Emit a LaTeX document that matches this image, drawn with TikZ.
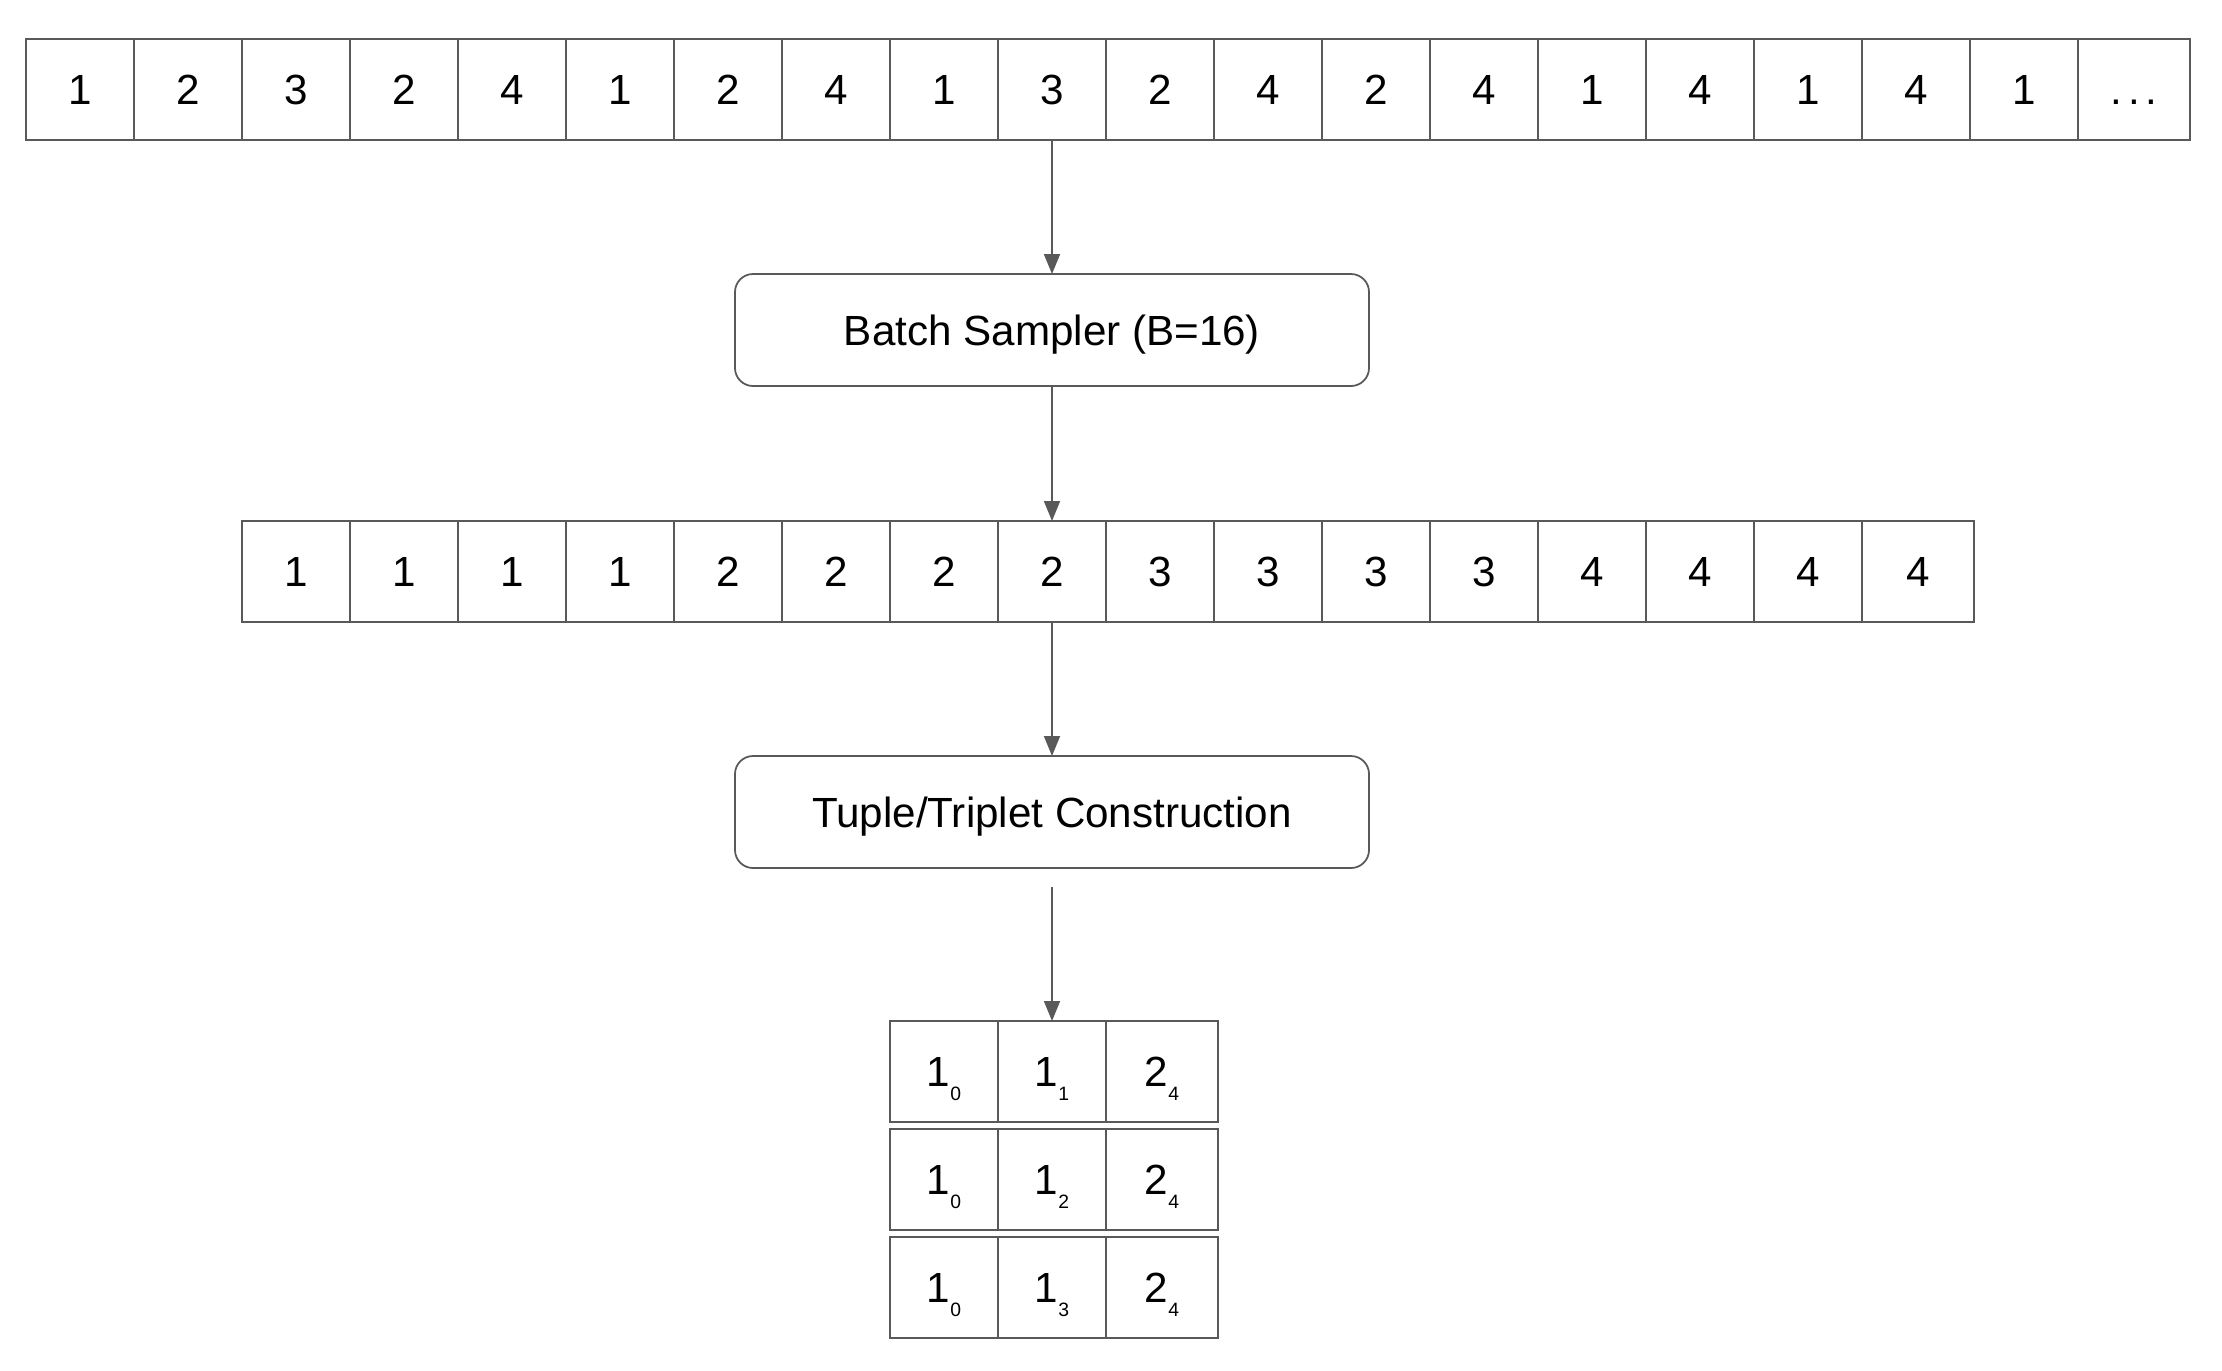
\documentclass[tikz,border=0pt]{standalone}
\usepackage{fontspec}
\setmainfont{Liberation Sans}
\usepackage{xcolor}
\definecolor{LineGrey}{HTML}{595959}
\usetikzlibrary{arrows.meta, positioning}
\newcommand{\subcell}[2]{#1\raisebox{-0.145cm}[0pt][0pt]{\fontsize{5.5}{6}\selectfont #2}}

\begin{document}
\begin{tikzpicture}[
  cell/.style={rectangle, draw=LineGrey, line width=0.5pt, minimum width=1.08cm, minimum height=1.01cm, inner sep=0pt, outer sep=0pt, font=\fontsize{12}{14}\selectfont},
  lastcell/.style={cell, minimum width=1.12cm},
  stagebox/.style={rectangle, rounded corners=0.18cm, draw=LineGrey, line width=0.5pt, minimum width=6.34cm, minimum height=1.12cm, inner sep=0pt, outer sep=0pt, text depth=0pt, font=\fontsize{12}{14}\selectfont},
  arrow/.style={-{Triangle[length=0.2cm, width=0.16cm]}, line width=0.5pt, LineGrey}
]
  \useasboundingbox (0,0) rectangle (22.22,-13.70);

  % input sequence
  \node[cell] (t1) at (0.80,-0.895) {1};
  \foreach \v [count=\i from 2] in {2,3,2,4,1,2,4,1,3,2,4,2,4,1,4,1,4,1} {
    \pgfmathtruncatemacro\j{\i-1}
    \node[cell, right=0pt of t\j] (t\i) {\v};
  }
  \node[lastcell, right=0pt of t19] (t20) {\vphantom{1}.\kern0.06cm.\kern0.06cm.};

  \node[stagebox, below=1.34cm of t10] (sampler) {Batch Sampler (B=16)};

  % sampled batch
  \node[cell, below=1.35cm of sampler] (m8) {2};
  \foreach \i in {7,...,1} {
    \pgfmathtruncatemacro\k{\i+1}
    \pgfmathtruncatemacro\v{int((\i-1)/4)+1}
    \node[cell, left=0pt of m\k] (m\i) {\v};
  }
  \foreach \i in {9,...,15} {
    \pgfmathtruncatemacro\k{\i-1}
    \pgfmathtruncatemacro\v{int((\i-1)/4)+1}
    \node[cell, right=0pt of m\k] (m\i) {\v};
  }
  \node[lastcell, right=0pt of m15] (m16) {4};

  \node[stagebox, below=1.34cm of m8] (tuples) {Tuple/Triplet Construction};

  % triplets
  \node[cell, below=1.53cm of tuples] (p12) {\subcell{1}{1}};
  \node[cell, left=0pt of p12] (p11) {\subcell{1}{0}};
  \node[lastcell, right=0pt of p12] (p13) {\subcell{2}{4}};
  \foreach \r in {2,3} {
    \pgfmathtruncatemacro\q{\r-1}
    \node[cell, below=0.07cm of p\q2] (p\r2) {\subcell{1}{\r}};
    \node[cell, left=0pt of p\r2] (p\r1) {\subcell{1}{0}};
    \node[lastcell, right=0pt of p\r2] (p\r3) {\subcell{2}{4}};
  }

  \coordinate[below=0.19cm of tuples] (tuplesout);

  \draw[arrow] (t10) -- (sampler);
  \draw[arrow] (sampler) -- (m8);
  \draw[arrow] (m8) -- (tuples);
  \draw[arrow] (tuplesout) -- (p12);
\end{tikzpicture}
\end{document}
